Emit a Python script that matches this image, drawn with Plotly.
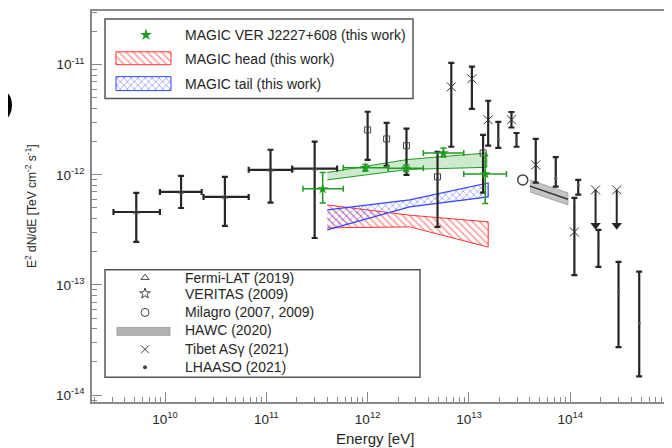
import plotly.graph_objects as go

# ---------------- data (energies in eV, E^2 dN/dE in TeV cm^-2 s^-1) ----------------
fermi_E = [5.2e9, 1.44e10, 3.9e10, 1.1e11, 3.0e11]
fermi_Elo = [3.1e9, 8.9e9, 2.4e10, 6.7e10, 1.8e11]
fermi_Ehi = [8.9e9, 2.3e10, 6.7e10, 1.8e11, 5.0e11]
fermi_F = [4.6e-13, 7.0e-13, 6.3e-13, 1.11e-12, 1.14e-12]
fermi_Fhi = [6.85e-13, 9.8e-13, 9.6e-13, 1.69e-12, 2.0e-12]
fermi_Flo = [2.46e-13, 5.0e-13, 3.44e-13, 5.6e-13, 2.67e-13]

veritas_E = [1.0e12, 1.54e12, 2.42e12, 4.9e12, 1.38e13]
veritas_F = [2.56e-12, 2.12e-12, 1.84e-12, 9.6e-13, 1.58e-12]
veritas_Fhi = [3.74e-12, 2.97e-12, 2.63e-12, 1.62e-12, 2.31e-12]
veritas_Flo = [1.37e-12, 1.21e-12, 1.0e-12, 3.37e-13, 6.9e-13]

magic_E = [3.6e11, 9.5e11, 2.4e12, 5.6e12, 1.45e13]
magic_Elo = [2.3e11, 5.75e11, 1.6e12, 3.55e12, 8.9e12]
magic_Ehi = [5.75e11, 1.6e12, 3.55e12, 8.9e12, 2.35e13]
magic_F = [7.46e-13, 1.16e-12, 1.15e-12, 1.58e-12, 1.02e-12]
magic_Fhi = [1.05e-12, 1.24e-12, 1.23e-12, 1.75e-12, 1.5e-12]
magic_Flo = [5.56e-13, 1.08e-12, 1.07e-12, 1.45e-12, 5.5e-13]

magic_band_E = [4.0e11, 2.5e12, 1.5e13]
magic_band_hi = [1.05e-12, 1.38e-12, 1.58e-12]
magic_band_lo = [9.0e-13, 1.12e-12, 1.17e-12]

head_E = [4.0e11, 2.6e12, 1.55e13]
head_hi = [5.33e-13, 4.3e-13, 3.74e-13]
head_lo = [3.3e-13, 3.37e-13, 2.21e-13]

tail_E = [4.0e11, 2.6e12, 1.55e13]
tail_hi = [4.8e-13, 5.93e-13, 8.45e-13]
tail_lo = [3.16e-13, 5.12e-13, 6.3e-13]

milagro_E = [3.4e13]
milagro_F = [9.0e-13]

hawc_E = [4.0e13, 9.5e13]
hawc_hi = [9.0e-13, 6.85e-13]
hawc_lo = [7.0e-13, 5.33e-13]
hawc_mid = [7.9e-13, 6.0e-13]

tibet_E = [6.7e12, 1.07e13, 1.55e13, 2.63e13, 4.57e13, 1.1e14]
tibet_F = [6.3e-12, 7.46e-12, 3.16e-12, 3.16e-12, 1.23e-12, 3.03e-13]
tibet_Fhi = [1.04e-11, 9.6e-12, 4.71e-12, 3.72e-12, 2.12e-12, 6.17e-13]
tibet_Flo = [1.8e-12, 3.98e-12, 1.84e-12, 2.69e-12, 8.5e-13, 1.23e-13]
tibet_ul_E = [1.78e14, 2.88e14]
tibet_ul_F = [7.3e-13, 7.3e-13]

lhaaso_E = [1.95e13, 2.95e13, 7.2e13, 1.2e14, 1.9e14, 3.0e14, 4.8e14]
lhaaso_F = [2.12e-12, 2.09e-12, 9.3e-13, 8.1e-13, 2.31e-13, 8.5e-14, 4.5e-14]
lhaaso_Fhi = [3.03e-12, 2.4e-12, 1.45e-12, 9.0e-13, 3.16e-13, 1.62e-13, 1.32e-13]
lhaaso_Flo = [1.76e-12, 1.8e-12, 7.8e-13, 6.6e-13, 1.46e-13, 2.73e-14, 1.48e-14]

x_tickvals = [1e10, 1e11, 1e12, 1e13, 1e14, 1e15]
x_ticktext = ["10<sup>10</sup>", "10<sup>11</sup>", "10<sup>12</sup>", "10<sup>13</sup>",
              "10<sup>14</sup>", "10<sup>15</sup>"]
y_tickvals = [1e-14, 1e-13, 1e-12, 1e-11]
y_ticktext = ["10<sup>-14</sup>", "10<sup>-13</sup>", "10<sup>-12</sup>", "10<sup>-11</sup>"]

legend1_labels = ["MAGIC VER J2227+608 (this work)", "MAGIC head (this work)", "MAGIC tail (this work)"]
legend2_labels = ["Fermi-LAT (2019)", "VERITAS (2009)", "Milagro (2007, 2009)", "HAWC (2020)",
                  "Tibet AS\u03b3 (2021)", "LHAASO (2021)"]

# ---------------- styles ----------------
FONT = "Liberation Sans, Arial, sans-serif"
BLK = "#262626"
GREEN = "#1f9a1f"
RED = "#ff3333"
BLUE = "#3344ff"
UL_FACTOR = 2.1  # arrow length for upper limits (style)

# page geometry (the page body adds an 8px offset)
PX0, PX1 = 92, 672   # plot area left/right in page pixels
PY0, PY1 = 9, 402    # plot area top/bottom in page pixels


def up(v, hi):
    return [h - c for c, h in zip(v, hi)]


def dn(v, lo):
    return [c - l for c, l in zip(v, lo)]


def band(E, lo, hi):
    return list(E) + list(E[::-1]), list(hi) + list(lo[::-1])


def px(x):
    return (x - PX0) / (PX1 - PX0)


def py(y):
    return (PY1 - y) / (PY1 - PY0)


fig = go.Figure()

# MAGIC band (green)
bx, by = band(magic_band_E, magic_band_lo, magic_band_hi)
fig.add_trace(go.Scatter(x=bx, y=by, fill="toself", mode="lines",
                         line=dict(color=GREEN, width=1), fillcolor="rgba(60,170,60,0.25)",
                         showlegend=False, hoverinfo="skip"))
# head (red hatched)
bx, by = band(head_E, head_lo, head_hi)
fig.add_trace(go.Scatter(x=bx, y=by, fill="toself", mode="lines",
                         line=dict(color=RED, width=1), fillcolor="rgba(0,0,0,0)",
                         fillpattern=dict(shape="\\", fgcolor=RED, bgcolor="rgba(255,255,255,0)",
                                          size=5, solidity=0.3),
                         showlegend=False, hoverinfo="skip"))
# tail (blue hatched)
bx, by = band(tail_E, tail_lo, tail_hi)
fig.add_trace(go.Scatter(x=bx, y=by, fill="toself", mode="lines",
                         line=dict(color=BLUE, width=1.2), fillcolor="rgba(0,0,0,0)",
                         fillpattern=dict(shape="x", fgcolor=BLUE, bgcolor="rgba(255,255,255,0)",
                                          size=5, solidity=0.3),
                         showlegend=False, hoverinfo="skip"))
# HAWC band
bx, by = band(hawc_E, hawc_lo, hawc_hi)
fig.add_trace(go.Scatter(x=bx, y=by, fill="toself", mode="lines",
                         line=dict(color="rgba(150,150,150,0.8)", width=1),
                         fillcolor="rgba(170,170,170,0.7)", showlegend=False, hoverinfo="skip"))
fig.add_trace(go.Scatter(x=hawc_E, y=hawc_mid, mode="lines", line=dict(color="#333", width=1.5),
                         showlegend=False, hoverinfo="skip"))

ebar = dict(type="data", symmetric=False, color=BLK, thickness=2.2, width=3)

# Fermi-LAT
fig.add_trace(go.Scatter(
    x=fermi_E, y=fermi_F, mode="markers",
    marker=dict(symbol="triangle-up-open", size=5, color="#555", line=dict(width=1)),
    error_x=dict(ebar, array=up(fermi_E, fermi_Ehi), arrayminus=dn(fermi_E, fermi_Elo)),
    error_y=dict(ebar, array=up(fermi_F, fermi_Fhi), arrayminus=dn(fermi_F, fermi_Flo)),
    showlegend=False))
# VERITAS
fig.add_trace(go.Scatter(
    x=veritas_E, y=veritas_F, mode="markers",
    marker=dict(symbol="square-open", size=6, color="#444", line=dict(width=1)),
    error_y=dict(ebar, array=up(veritas_F, veritas_Fhi), arrayminus=dn(veritas_F, veritas_Flo)),
    showlegend=False))
# Tibet
fig.add_trace(go.Scatter(
    x=tibet_E, y=tibet_F, mode="markers",
    marker=dict(symbol="x-thin-open", size=9, color="#333", line=dict(width=1, color="#333")),
    error_y=dict(ebar, array=up(tibet_F, tibet_Fhi), arrayminus=dn(tibet_F, tibet_Flo)),
    showlegend=False))
# Tibet upper limits
ul_tip = [f / UL_FACTOR for f in tibet_ul_F]
fig.add_trace(go.Scatter(
    x=tibet_ul_E, y=tibet_ul_F, mode="markers",
    marker=dict(symbol="x-thin-open", size=9, color="#333", line=dict(width=1, color="#333")),
    error_y=dict(type="data", symmetric=False, array=[0, 0],
                 arrayminus=[f - t for f, t in zip(tibet_ul_F, ul_tip)],
                 color=BLK, thickness=2, width=0),
    showlegend=False))
fig.add_trace(go.Scatter(x=tibet_ul_E, y=ul_tip, mode="markers",
                         marker=dict(symbol="triangle-down", size=9, color=BLK),
                         showlegend=False))
# LHAASO
fig.add_trace(go.Scatter(
    x=lhaaso_E, y=lhaaso_F, mode="markers",
    marker=dict(symbol="circle", size=3, color="#555"),
    error_y=dict(ebar, array=up(lhaaso_F, lhaaso_Fhi), arrayminus=dn(lhaaso_F, lhaaso_Flo)),
    showlegend=False))
# Milagro
fig.add_trace(go.Scatter(x=milagro_E, y=milagro_F, mode="markers",
                         marker=dict(symbol="circle-open", size=10, color="#444", line=dict(width=1.5)),
                         showlegend=False))
# MAGIC points
gbar = dict(type="data", symmetric=False, color=GREEN, thickness=1.5, width=3)
fig.add_trace(go.Scatter(
    x=magic_E, y=magic_F, mode="markers",
    marker=dict(symbol="star", size=8, color=GREEN),
    error_x=dict(gbar, array=up(magic_E, magic_Ehi), arrayminus=dn(magic_E, magic_Elo)),
    error_y=dict(gbar, array=up(magic_F, magic_Fhi), arrayminus=dn(magic_F, magic_Flo)),
    showlegend=False))

# ---------------- legends (page-pixel overlay axes) ----------------
L = dict(xaxis="x2", yaxis="y2", showlegend=False, hoverinfo="skip")
fig.add_trace(go.Scatter(x=[146], y=[33], mode="markers",
                         marker=dict(symbol="star", size=9, color=GREEN), **L))
fig.add_trace(go.Scatter(x=[116, 171, 171, 116, 116], y=[50, 50, 63, 63, 50], mode="lines",
                         fill="toself", line=dict(color=RED, width=1), fillcolor="rgba(0,0,0,0)",
                         fillpattern=dict(shape="\\", fgcolor=RED, size=5, solidity=0.3), **L))
fig.add_trace(go.Scatter(x=[116, 171, 171, 116, 116], y=[75, 75, 89, 89, 75], mode="lines",
                         fill="toself", line=dict(color=BLUE, width=1), fillcolor="rgba(0,0,0,0)",
                         fillpattern=dict(shape="x", fgcolor=BLUE, size=5, solidity=0.3), **L))
fig.add_trace(go.Scatter(x=[145], y=[277], mode="markers",
                         marker=dict(symbol="triangle-up-open", size=7, color="#444"), **L))
fig.add_trace(go.Scatter(x=[145], y=[293], mode="markers",
                         marker=dict(symbol="star-open", size=8, color="#444"), **L))
fig.add_trace(go.Scatter(x=[145], y=[312], mode="markers",
                         marker=dict(symbol="circle-open", size=8, color="#444"), **L))
fig.add_trace(go.Scatter(x=[117, 170, 170, 117, 117], y=[327, 327, 335, 335, 327], mode="lines",
                         fill="toself", line=dict(color="rgba(150,150,150,0.8)", width=1),
                         fillcolor="rgba(160,160,160,0.8)", **L))
fig.add_trace(go.Scatter(x=[145], y=[349], mode="markers",
                         marker=dict(symbol="x-thin-open", size=8, color="#444",
                                     line=dict(width=1, color="#444")), **L))
fig.add_trace(go.Scatter(x=[145], y=[367], mode="markers",
                         marker=dict(symbol="circle", size=4, color="#444"), **L))

annotations = []
for lab, yy in zip(legend1_labels, [33, 57, 82]):
    annotations.append(dict(x=183, y=yy, xref="x2", yref="y2", text=lab, showarrow=False,
                            xanchor="left", yanchor="middle",
                            font=dict(size=14, color=BLK, family=FONT)))
for lab, yy in zip(legend2_labels, [277, 293, 312, 330, 349, 367]):
    annotations.append(dict(x=183, y=yy, xref="x2", yref="y2", text=lab, showarrow=False,
                            xanchor="left", yanchor="middle",
                            font=dict(size=14, color=BLK, family=FONT)))

annotations.append(dict(x=px(375), y=py(439), xref="paper", yref="paper",
                        text="Energy [eV]", showarrow=False, xanchor="center", yanchor="middle",
                        font=dict(size=15, color=BLK, family=FONT)))
annotations.append(dict(x=px(31), y=py(205), xref="paper", yref="paper",
                        text="E<sup>2</sup> dN/dE [TeV cm<sup>-2</sup> s<sup>-1</sup>]", textangle=-90,
                        showarrow=False, xanchor="center", yanchor="middle",
                        font=dict(size=12, color=BLK, family=FONT)))
annotations.append(dict(x=px(16), y=py(104), xref="paper", yref="paper",
                        text="<b>D</b>", showarrow=False, xanchor="right", yanchor="middle",
                        font=dict(size=50, color="black", family=FONT)))

shapes = [
    dict(type="rect", xref="x2", yref="y2", x0=105, x1=413, y0=17, y1=97,
         line=dict(color="#555", width=1.5)),
    dict(type="rect", xref="x2", yref="y2", x0=105, x1=420, y0=269, y1=377,
         line=dict(color="#555", width=1.5)),
]

x_minor = [k * 10.0 ** e for e in range(9, 16) for k in range(2, 10)]
y_minor = [k * 10.0 ** e for e in range(-15, -10) for k in range(2, 10)]

axcommon = dict(showline=True, linecolor="#8a8a8a", linewidth=1.5, mirror=True, ticks="inside",
                ticklen=10, tickcolor="#8a8a8a", tickwidth=1, showgrid=False, zeroline=False,
                tickfont=dict(size=13.5, color=BLK, family=FONT))

fig.update_layout(
    width=672, height=448,
    margin=dict(l=PX0 - 8, r=672 - (PX1 - 8), t=PY0 - 8, b=448 - (PY1 - 8)),
    paper_bgcolor="white", plot_bgcolor="white",
    showlegend=False,
    xaxis=dict(type="log", range=[9.279, 15.005], tickmode="array", tickvals=x_tickvals,
               ticktext=x_ticktext, ticklabelstandoff=4,
               minor=dict(ticks="inside", ticklen=5, tickcolor="#8a8a8a", tickvals=x_minor),
               **axcommon),
    yaxis=dict(type="log", range=[-14.063, -10.512], tickmode="array", tickvals=y_tickvals,
               ticktext=y_ticktext, ticklabelstandoff=3,
               minor=dict(ticks="inside", ticklen=5, tickcolor="#8a8a8a", tickvals=y_minor),
               **axcommon),
    xaxis2=dict(overlaying="x", anchor="y2", range=[PX0, PX1], visible=False),
    yaxis2=dict(overlaying="y", anchor="x2", range=[PY1, PY0], visible=False),
    annotations=annotations,
    shapes=shapes,
)

fig.write_html("out.html")
